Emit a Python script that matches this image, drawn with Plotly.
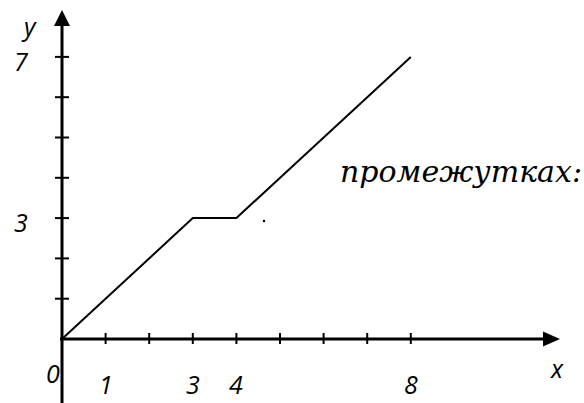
import plotly.graph_objects as go

# Piecewise-linear graph: rises, stays flat, rises again
x_vals = [0, 3, 4, 8]
y_vals = [0, 3, 3, 7]

x_ticks = [1, 2, 3, 4, 5, 6, 7, 8]
y_ticks = [1, 2, 3, 4, 5, 6, 7]
x_tick_labels = ["1", "3", "4", "8"]
y_tick_labels = ["3", "7"]
side_text = "промежутках:"

# pixel -> data mapping (origin at px (62, 339), 43.6 px per x unit, 40.3 px per y unit)
OX, OY, UX, UY = 62, 339, 43.6, 40.3
W, H = 584, 403
x_range = [-OX / UX, (W - OX) / UX]
y_range = [-(H - OY) / UY, OY / UY]


def px_x(p):
    return (p - OX) / UX


def px_y(p):
    return (OY - p) / UY


fig = go.Figure()

fig.add_trace(go.Scatter(
    x=x_vals, y=y_vals, mode="lines",
    line=dict(color="black", width=2),
    hoverinfo="skip", showlegend=False,
))

# stray dot beside the flat piece
fig.add_trace(go.Scatter(
    x=[px_x(264)], y=[px_y(221)], mode="markers",
    marker=dict(color="black", size=2.5),
    hoverinfo="skip", showlegend=False,
))

shapes = []
axis_line = dict(color="black", width=3)
# axes
shapes.append(dict(type="line", x0=px_x(60), x1=px_x(546), y0=0, y1=0, line=axis_line))
shapes.append(dict(type="line", x0=0, x1=0, y0=px_y(H + 2), y1=px_y(24), line=axis_line))
# arrow heads
shapes.append(dict(
    type="path",
    path=f"M {px_x(560)} 0 L {px_x(543)} {7.5 / UY} L {px_x(543)} {-7.5 / UY} Z",
    fillcolor="black", line=dict(color="black", width=0),
))
shapes.append(dict(
    type="path",
    path=f"M 0 {px_y(10)} L {8 / UX} {px_y(26)} L {-8 / UX} {px_y(26)} Z",
    fillcolor="black", line=dict(color="black", width=0),
))
# tick marks
tick_line = dict(color="black", width=2)
for t in x_ticks:
    shapes.append(dict(type="line", x0=t, x1=t, y0=6 / UY, y1=-5 / UY, line=tick_line))
for t in y_ticks:
    shapes.append(dict(type="line", x0=-7 / UX, x1=7 / UX, y0=t, y1=t, line=tick_line))

label_font = dict(family="Open Sans", size=25, color="black", style="italic")
serif_font = dict(family="DejaVu Serif", size=30, color="black", style="italic")

annotations = []
for lab in x_tick_labels:
    v = float(lab)
    annotations.append(dict(x=v, y=px_y(384), text=lab, showarrow=False,
                            xanchor="center", yanchor="middle", font=label_font))
for lab in y_tick_labels:
    v = float(lab)
    annotations.append(dict(x=px_x(21), y=v - 4 / UY, text=lab, showarrow=False,
                            xanchor="center", yanchor="middle", font=label_font))
annotations.append(dict(x=px_x(53), y=px_y(373), text="0", showarrow=False,
                        xanchor="center", yanchor="middle", font=label_font))
annotations.append(dict(x=px_x(29), y=px_y(26), text="y", showarrow=False,
                        xanchor="center", yanchor="middle", font=label_font))
annotations.append(dict(x=px_x(557), y=px_y(368), text="x", showarrow=False,
                        xanchor="center", yanchor="middle", font=label_font))
annotations.append(dict(x=px_x(461), y=px_y(171), text=side_text, showarrow=False,
                        xanchor="center", yanchor="middle", font=serif_font))

fig.update_layout(
    width=W, height=H,
    margin=dict(l=0, r=0, t=0, b=0),
    paper_bgcolor="white", plot_bgcolor="white",
    font=dict(family="Open Sans"),
    xaxis=dict(range=x_range, visible=False, fixedrange=True),
    yaxis=dict(range=y_range, visible=False, fixedrange=True),
    shapes=shapes, annotations=annotations,
    showlegend=False,
)

fig.write_html("out.html", config={"displayModeBar": False})
